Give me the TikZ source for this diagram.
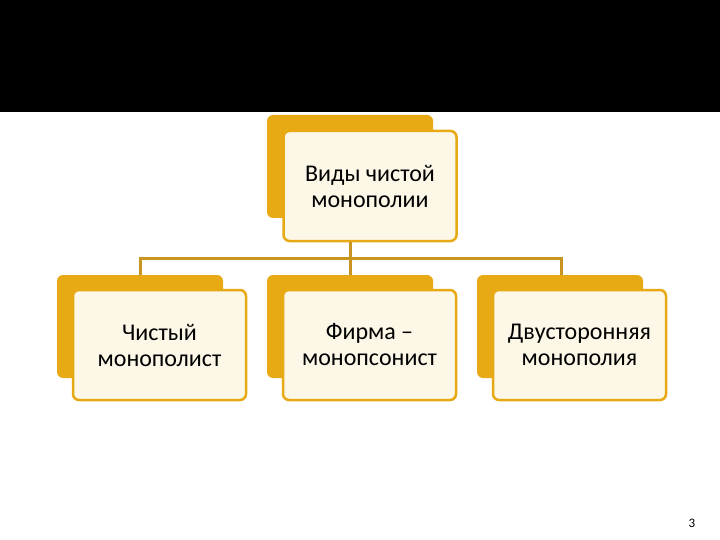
\documentclass[tikz,border=0pt]{standalone}
\usepackage{fontspec}
\setmainfont{Carlito}
\definecolor{gold}{HTML}{E8AA14}
\definecolor{lnk}{HTML}{C89620}
\definecolor{cream}{HTML}{FCF7E6}
\begin{document}
\begin{tikzpicture}[x=1pt,y=-1pt,
  back/.style={fill=gold,rounded corners=6pt},
  front/.style={draw=gold,line width=2.5pt,fill=cream,rounded corners=6pt,inner sep=0pt,align=center,font=\fontsize{24}{26}\selectfont},
  lnkst/.style={draw=lnk,line width=3pt}]
\fill[white] (0,0) rectangle (720,540);
\fill[black] (0,0) rectangle (720,112);
\useasboundingbox (0,0) rectangle (720,540);
\fill[back] (267,115) rectangle (433,218);
\node[front,minimum width=173pt,minimum height=110pt] (top) at (370,186) {Виды чистой\\монополии};
\foreach \n/\t/\x in {a/{Чистый\\монополист}/57, b/{Фирма –\\монопсонист}/267, c/{Двусторонняя\\монополия}/477}{
  \fill[back] (\x,275) rectangle ({\x+166},378);
  \node[front,minimum width=173pt,minimum height=110pt] (\n) at ({\x+102.5},345) {\t};
}
\coordinate (j) at (350,258);
\draw[lnkst] (top.south -| j) -- (j);
\draw[lnkst] (140,258) -- (561,258);
\draw[lnkst] (140,256.5) -- (140,275);
\draw[lnkst] (350,256.5) -- (350,275);
\draw[lnkst] (561,256.5) -- (561,275);
\node[font=\fontsize{13}{14}\selectfont] (p) at (692,523) {3};
\end{tikzpicture}
\end{document}
